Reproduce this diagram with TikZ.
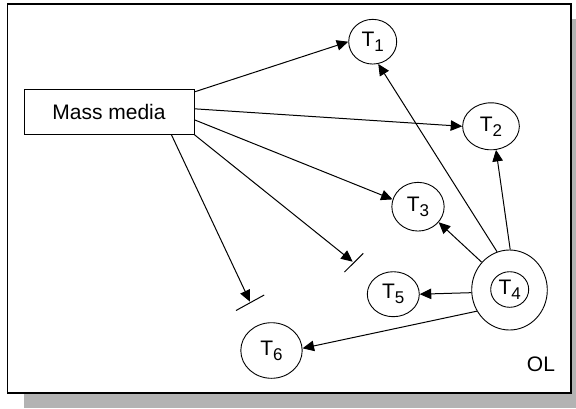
\documentclass[tikz,border=0pt]{standalone}
\usepackage{fontspec}
\setmainfont{Liberation Sans}
\usetikzlibrary{arrows.meta,shapes.geometric,calc}
\definecolor{shadowgray}{RGB}{179,179,179}
% letter with a lowered, smaller index
\newcommand\tsub[2]{#1\raisebox{-5pt}{\fontsize{17}{17}\selectfont #2}}

\begin{document}
\begin{tikzpicture}[x=1pt,y=-1pt,
  tnode/.style={draw, ellipse, line width=0.9pt, inner sep=0pt,
                font=\fontsize{21}{25}\selectfont},
  boxnode/.style={draw, rectangle, line width=0.8pt, inner sep=0pt,
                  minimum width=170pt, minimum height=45pt,
                  font=\fontsize{21}{25}\selectfont},
  link/.style={line width=1pt, -{Triangle[length=11.5pt,width=10.5pt]}},
  blockbar/.style={line width=1pt}]

\useasboundingbox (0,0) rectangle (576,408);

% drop shadow and frame
\fill[shadowgray] (23.5,19) rectangle (576,408);
\draw[fill=white, line width=1.1pt] (7.5,4) rectangle (571,393);

% nodes
\node[boxnode] (mm) at (109,111.8) {Mass media};
\node[tnode, minimum width=48pt, minimum height=44.7pt] (t1) at (372.7,41.7) {\tsub{T}{1}};
\node[tnode, minimum width=56.7pt, minimum height=47pt] (t2) at (491,126.3) {\tsub{T}{2}};
\node[tnode, minimum width=52.3pt, minimum height=48.7pt] (t3) at (418,206.7) {\tsub{T}{3}};
\node[tnode, minimum width=75.6pt, minimum height=80pt] (t4o) at (509.5,290) {};
\node[tnode, minimum width=38pt, minimum height=35.6pt] (t4) at (509.7,289.5) {\tsub{T}{4}};
\node[tnode, minimum width=52pt, minimum height=45pt] (t5) at (393.3,294.2) {\tsub{T}{5}};
\node[tnode, minimum width=61.4pt, minimum height=55.6pt] (t6) at (271.5,350.5) {\tsub{T}{6}};
\node[font=\fontsize{21}{25}\selectfont] (ol) at (541,364) {OL};

% blocked ends
\coordinate (b1) at (250,301.7);
\coordinate (b2) at (352.7,261.7);

% mass media influence
\draw[link] ([yshift=-3pt]mm.north east) -- (t1.west);
\draw[link] ([yshift=3pt]mm.east) -- (t2.west);
\draw[link] ([yshift=-8pt]mm.east) -- (t3.164);
\draw[link] (mm.south east) -- (b2);
\draw[link] ([xshift=-23pt]mm.south east) -- (b1);
\draw[blockbar] ($(b1)+(-14,8.8)$) -- ($(b1)+(14.2,-6.7)$);
\draw[blockbar] ($(b2)+(-8.2,10.3)$) -- ($(b2)+(10.6,-8.4)$);

% opinion leader influence
\draw[link] (t4o.108) -- (t1.284);
\draw[link] (t4o.89) -- (t2.282);
\draw[link] (t4o.135) -- (t3.323);
\draw[link] (t4o.184) -- (t5.east);
\draw[link] (t4o.213.6) -- (t6.4);

\end{tikzpicture}
\end{document}
